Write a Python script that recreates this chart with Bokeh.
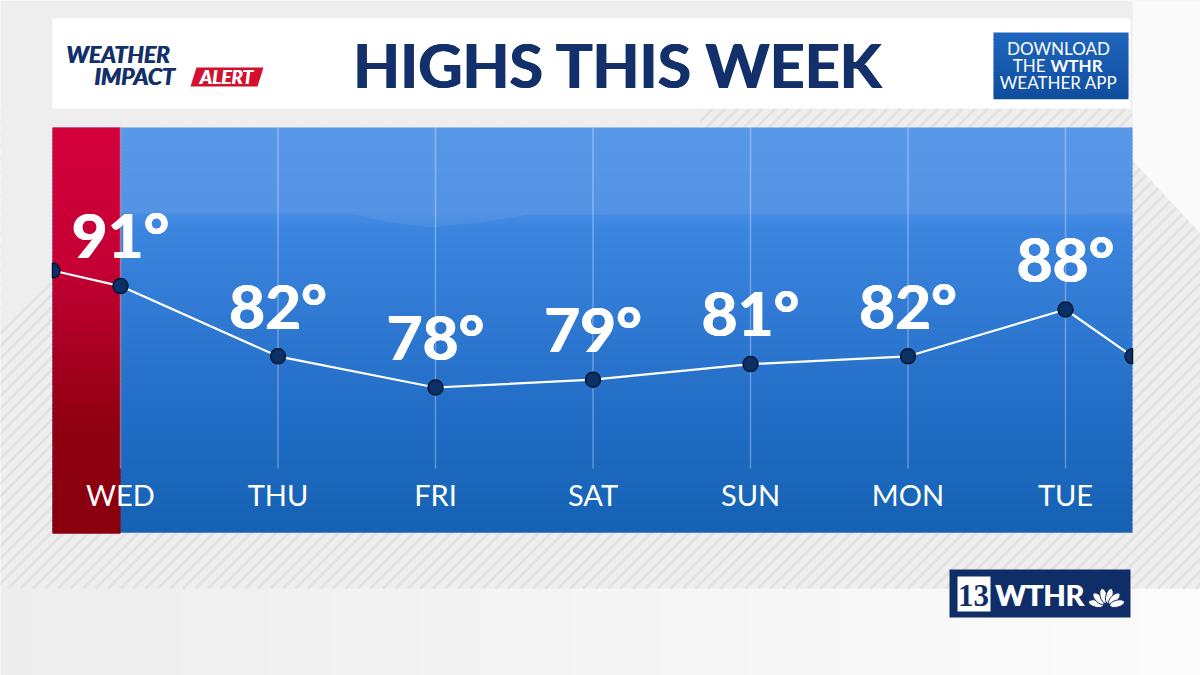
from bokeh.plotting import figure
from bokeh.models import Range1d
from bokeh.embed import file_html
from bokeh.resources import INLINE
from bokeh.core.properties import value
import numpy as np

# ---------------- data ----------------
days = ["WED", "THU", "FRI", "SAT", "SUN", "MON", "TUE"]
highs = [91, 82, 78, 79, 81, 82, 88]
edge_x = [-0.4317, 6.4254]        # line continues off the panel edges
edge_temps = [93, 82]
title = "HIGHS THIS WEEK"
app_lines = ["DOWNLOAD", "THE", "WTHR", "WEATHER APP"]

# ---------------- geometry ----------------
W, H = 1200, 675
day_px0, day_step = 120, 157.5
T_ref, y_ref, ppd = 78, 387, 7.8
x_start = -day_px0 / day_step
x_end = (W - day_px0) / day_step
t_top = T_ref + y_ref / ppd
t_bot = T_ref - (H - y_ref) / ppd
BASE = 0.4  # baseline correction (em)

p = figure(width=W, height=H, x_range=Range1d(x_start, x_end),
           y_range=Range1d(t_bot, t_top), output_backend="svg",
           toolbar_location=None, min_border=0,
           x_axis_location=None, y_axis_location=None)
p.extra_x_ranges = {"px": Range1d(0, W)}
p.extra_y_ranges = {"px": Range1d(H, 0)}
p.grid.visible = False
p.outline_line_color = None
BG = "#eeeeee"
p.background_fill_color = BG
p.border_fill_color = BG
PX = dict(x_range_name="px", y_range_name="px")


def B(y, fs):
    return y - BASE * fs


def hex2rgb(h):
    h = h.lstrip("#")
    return np.array([int(h[i:i + 2], 16) for i in (0, 2, 4)], float)


def grad(stops, n):
    pos = np.array([s[0] for s in stops])
    cols = np.array([hex2rgb(s[1]) for s in stops])
    t = (np.arange(n) + 0.5) / n
    out = []
    for tt in t:
        c = [np.interp(tt, pos, cols[:, k]) for k in range(3)]
        out.append("#%02x%02x%02x" % tuple(int(round(v)) for v in c))
    return out


def stripes(y0, y1, x0, x1, step=12.5):
    h = y1 - y0
    a = np.arange(x0 - h, x1, step)
    return [[v, v + h] for v in a], [[y1, y0] for v in a]


def heavy_text(offsets=(-0.7, 0.0, 0.7), **kw):
    for dx in offsets:
        p.text(x_offset=dx, **kw)

# lower plain area, lighter to the right
lg = grad([(0, "#ededed"), (0.5, "#f5f5f5"), (1, "#fbfbfb")], 40)
le = np.linspace(0, W, 41)
p.quad(left=le[:-1], right=le[1:] + 0.8, top=588, bottom=H, fill_color=lg,
       line_color=None, **PX)
# background stripes
xs, ys = stripes(108, 588, 0, W)
p.multi_line(xs=xs, ys=ys, line_color="#e2e2e2", line_width=3, **PX)
# plain areas without stripes
p.patch([0, 700, 700, 0], [108, 108, 127, 127], fill_color=BG,
        line_color=None, **PX)
p.patch([0, 52, 52, 0], [108, 108, 280, 330], fill_color=BG,
        line_color=None, **PX)
p.patch([1132, W, W, 1132], [0, 0, 233, 160], fill_color="#fafafa",
        line_color=None, **PX)

# header
p.quad(left=52, right=1130, top=18, bottom=108, fill_color="white",
       line_color=None, **PX)

# panel gradient
n = 101
edges = np.linspace(127, 531, n + 1)
blue = grad([(0, "#4f92e6"), (0.21, "#4a8de4"), (0.24, "#3d86e0"),
             (0.7, "#226dc6"), (1, "#1562b3")], n)
p.quad(left=52, right=1132, top=edges[:-1], bottom=edges[1:] + 1.2,
       fill_color=blue, line_color=None, **PX)
# lighter top band with soft wave
wx = [120, 350, 390, 430, 480, 530, 1132, 1132, 120]
wy = [213, 213, 222, 227, 222, 214, 213, 127, 127]
p.patch(wx, wy, fill_color="white", fill_alpha=0.06, line_color=None, **PX)

# red "today" column
red = grad([(0, "#d4003c"), (0.35, "#c40034"), (0.75, "#8e0010"), (1, "#8a000f")], n)
redges = np.linspace(127, 532, n + 1)
p.quad(left=52, right=120, top=redges[:-1], bottom=redges[1:] + 1.2,
       fill_color=red, line_color=None, **PX)

# vertical day lines
idx = list(range(len(days)))
p.segment(x0=idx, y0=[127] * len(idx), x1=idx, y1=[468] * len(idx),
          y_range_name="px", line_color="white", line_alpha=0.3, line_width=1.5)

# temperature line + markers
lx = [edge_x[0]] + idx + [edge_x[1]]
ly = [edge_temps[0]] + highs + [edge_temps[1]]
p.line(lx, ly, line_color="white", line_width=2.2)
p.scatter(idx, highs, size=15, fill_color="#0b3068", line_color="#061830",
          line_width=1.5)
p.wedge(x=edge_x, y=edge_temps, radius=7.5, radius_units="screen",
        start_angle=[-np.pi / 2, np.pi / 2], end_angle=[np.pi / 2, 3 * np.pi / 2],
        fill_color="#0b3068", line_color="#061830", line_width=1.5)

# temperature labels
FS_T = 62
heavy_text(x=idx, y=highs, text=[f"{t}°" for t in highs], text_align="center",
           text_baseline="alphabetic", y_offset=-27 - BASE * FS_T,
           text_color="white", text_font=value("Lato"), text_font_style="bold",
           text_font_size=f"{FS_T}px")

# day labels
FS_D = 29
p.text(x=idx, y=[B(506, FS_D)] * len(idx), text=days, y_range_name="px",
       text_align="center", text_baseline="alphabetic", text_color="white",
       text_font=value("Lato"), text_font_size=f"{FS_D}px")

# title
heavy_text(x=[618], y=[B(88, 61)], text=[title], text_align="center",
           text_baseline="alphabetic", text_color="#14306b",
           text_font=value("Lato"), text_font_style="bold",
           text_font_size="61px", **PX)

# Weather Impact Alert logo
heavy_text(offsets=(-0.4, 0.4), x=[66], y=[B(63, 23)], text=["WEATHER"],
           text_align="left", text_baseline="alphabetic", text_color="#14306b",
           text_font=value("Lato"), text_font_style="bold italic",
           text_font_size="23px", **PX)
heavy_text(offsets=(-0.4, 0.4), x=[94], y=[B(85, 23)], text=["IMPACT"],
           text_align="left", text_baseline="alphabetic", text_color="#14306b",
           text_font=value("Lato"), text_font_style="bold italic",
           text_font_size="23px", **PX)
p.patch([196, 263, 257, 190], [67, 67, 86, 86],
        fill_color="#d3112e", line_color=None, **PX)
heavy_text(offsets=(-0.3, 0.3), x=[226], y=[B(84, 19)], text=["ALERT"],
           text_align="center", text_baseline="alphabetic", text_color="white",
           text_font=value("Lato"), text_font_style="bold italic",
           text_font_size="19px", **PX)

# app box
ab = grad([(0, "#1f66bd"), (1, "#0f4d9e")], 20)
ae = np.linspace(32, 98, 21)
p.quad(left=993, right=1128, top=ae[:-1], bottom=ae[1:] + 0.8,
       fill_color=ab, line_color=None, **PX)
FS_A = 17
for txt, x, y, al, st in [(app_lines[0], 1058, 55, "center", "normal"),
                          (app_lines[1], 1045, 72, "right", "normal"),
                          (app_lines[2], 1050, 72, "left", "bold"),
                          (app_lines[3], 1058, 89, "center", "normal")]:
    p.text(x=[x], y=[B(y, FS_A)], text=[txt], text_align=al,
           text_baseline="alphabetic", text_color="white",
           text_font=value("Lato"), text_font_style=st,
           text_font_size=f"{FS_A}px", **PX)

# WTHR logo
p.quad(left=949, right=1130, top=569, bottom=617,
       fill_color="#0f2e68", line_color=None, **PX)
p.quad(left=957, right=990, top=576, bottom=611,
       fill_color="white", line_color=None, **PX)
p.text(x=[973], y=[B(607, 31)], text=["13"], text_align="center",
       text_baseline="alphabetic", text_color="#0f2e68",
       text_font=value("Liberation Serif"), text_font_style="bold",
       text_font_size="31px", **PX)
heavy_text(offsets=(-0.4, 0.4), x=[995], y=[B(606, 29)], text=["WTHR"],
           text_align="left", text_baseline="alphabetic", text_color="white",
           text_font=value("Lato"), text_font_style="bold",
           text_font_size="29px", **PX)
ang = np.radians([165, 135, 105, 75, 45, 15])
cx, cy, rr = 1106, 606, 11
p.ellipse(x=cx + rr * np.cos(ang), y=cy - rr * np.sin(ang), width=7, height=15,
          angle=-(np.pi / 2 - ang), fill_color="white", line_color="#0f2e68",
          line_width=1, **PX)

open("out.html", "w").write(file_html(p, INLINE))
